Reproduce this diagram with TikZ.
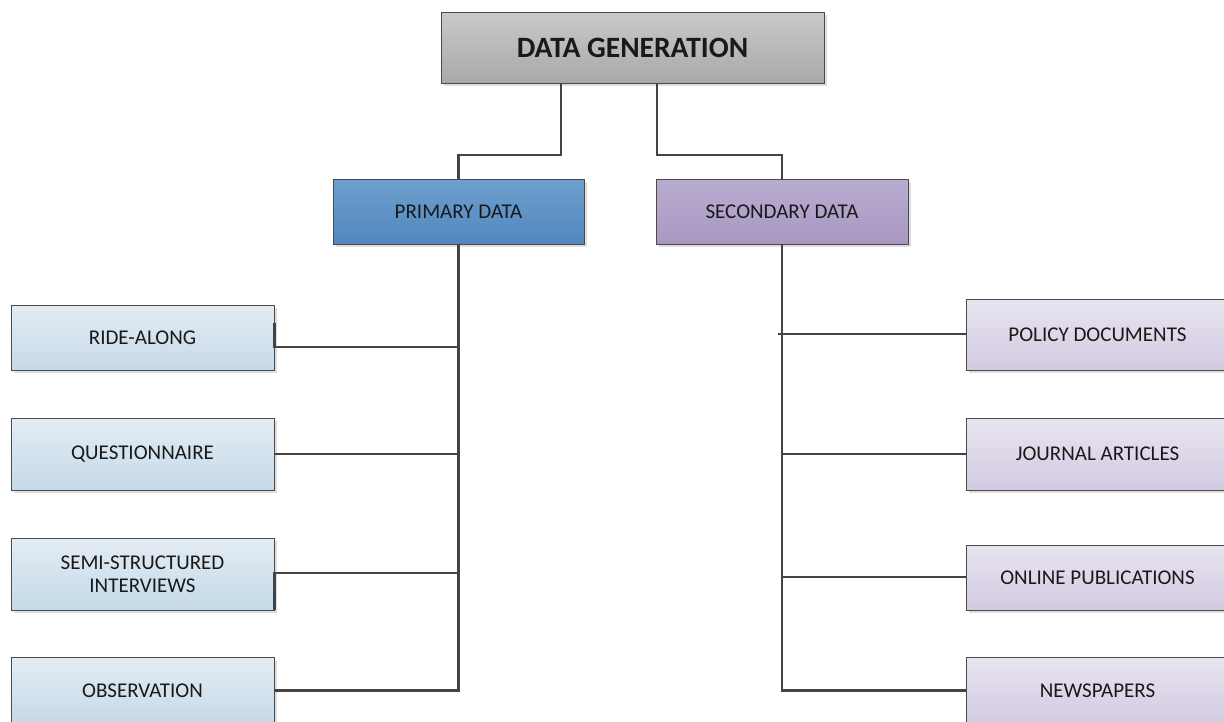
\documentclass[tikz,border=0pt]{standalone}
\usepackage{fontspec}
\setmainfont{Carlito}
\usetikzlibrary{shadows}

\definecolor{edgegrey}{HTML}{4A4A4A}
\definecolor{linkgrey}{HTML}{434343}
\definecolor{genTop}{HTML}{C9C9C9}
\definecolor{genBot}{HTML}{A9A9A9}
\definecolor{primTop}{HTML}{6E9FCD}
\definecolor{primBot}{HTML}{5288BE}
\definecolor{secTop}{HTML}{B9ACD0}
\definecolor{secBot}{HTML}{A898C2}
\definecolor{leafLTop}{HTML}{E3ECF4}
\definecolor{leafLBot}{HTML}{C6D9E8}
\definecolor{leafRTop}{HTML}{E8E4F0}
\definecolor{leafRBot}{HTML}{D3CAE1}

\tikzset{
  box/.style={draw=edgegrey, line width=0.9pt, rectangle, align=center,
    inner sep=2pt, text=black!90,
    drop shadow={shadow xshift=3pt, shadow yshift=-3pt, fill=black!13, opacity=1}},
  genbox/.style={box, top color=genTop, bottom color=genBot,
    minimum width=383pt, minimum height=71pt, font=\fontsize{29.5}{33}\selectfont\bfseries},
  primbox/.style={box, top color=primTop, bottom color=primBot,
    minimum width=251pt, minimum height=65pt, font=\fontsize{21}{25}\selectfont},
  secbox/.style={box, top color=secTop, bottom color=secBot,
    minimum width=252pt, minimum height=65pt, font=\fontsize{21}{25}\selectfont},
  leafL/.style={box, top color=leafLTop, bottom color=leafLBot,
    minimum width=263pt, font=\fontsize{21}{25}\selectfont},
  leafR/.style={box, top color=leafRTop, bottom color=leafRBot,
    minimum width=263pt, font=\fontsize{21}{25}\selectfont},
  link/.style={draw=linkgrey, line width=2.5pt}
}

\begin{document}
\begin{tikzpicture}[x=1pt, y=-1pt]
  \useasboundingbox (0,0) rectangle (1224,721);

  % header and the two data categories
  \node[genbox] (gen) at (632.5,47.5) {DATA GENERATION};
  \node[primbox] (prim) at (458.5,211.5) {PRIMARY DATA};
  \node[secbox] (sec) at (782,211.5) {SECONDARY DATA};

  % primary data sources
  \node[leafL, minimum height=65pt] (ride) at (142.5,337.5) {RIDE-ALONG};
  \node[leafL, minimum height=72pt] (quest) at (142.5,454) {QUESTIONNAIRE};
  \node[leafL, minimum height=72pt] (semi) at (142.5,574) {SEMI-STRUCTURED\\[-2pt]INTERVIEWS};
  \node[leafL, minimum height=66pt] (obs) at (142.5,690.5) {OBSERVATION};

  % secondary data sources
  \node[leafR, minimum height=71pt] (policy) at (1097.5,334.5) {POLICY DOCUMENTS};
  \node[leafR, minimum height=72pt] (journal) at (1097.5,454) {JOURNAL ARTICLES};
  \node[leafR, minimum height=65pt] (online) at (1097.5,577.5) {ONLINE PUBLICATIONS};
  \node[leafR, minimum height=66pt] (news) at (1097.5,690.5) {NEWSPAPERS};

  % junction points
  \coordinate (jl) at (561,155);
  \coordinate (jr) at (657,155);
  \coordinate (pr) at (459,347);
  \coordinate (ps) at (459,573);
  \coordinate (sp) at (778,334);
  \coordinate (so) at (782,577);

  % header to categories
  \draw[link] (gen.south -| jl) -- (jl) -| (prim.north);
  \draw[link] (gen.south -| jr) -- (jr) -| (sec.north);

  % primary trunk and branches
  \draw[link] (prim.south) |- (obs.east);
  \draw[link] ([yshift=14.5pt]ride.east) |- (pr);
  \draw[link] (quest.east) -- (quest.east -| prim.south);
  \draw[link] (semi.south east) |- (ps);

  % secondary trunk and branches
  \draw[link] (sec.south) |- (news.west);
  \draw[link] (sp) -- (sp -| policy.west);
  \draw[link] (journal.west -| sec.south) -- (journal.west);
  \draw[link] (so) -- (so -| online.west);
\end{tikzpicture}
\end{document}
